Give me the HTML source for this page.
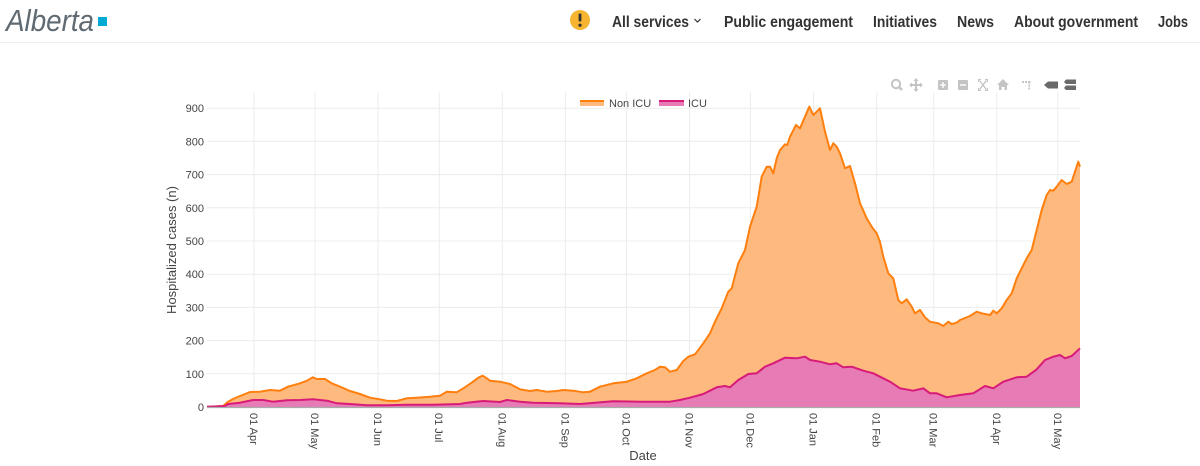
<!DOCTYPE html>
<html><head><meta charset="utf-8"><style>
html,body{margin:0;padding:0;background:#fff;}
svg{display:block;}
text{font-family:"Liberation Sans",sans-serif;}
</style></head><body>
<svg width="1200" height="466" viewBox="0 0 1200 466" xmlns="http://www.w3.org/2000/svg">
<rect width="1200" height="466" fill="#fff"/>
<!-- Header -->
<text x="6" y="31" font-family="Liberation Serif, serif" font-style="italic" font-size="31" fill="#5f6a72" textLength="88" lengthAdjust="spacingAndGlyphs">Alberta</text>
<rect x="98" y="17" width="9" height="9" fill="#00aad2"/>
<line x1="0" y1="42.5" x2="1200" y2="42.5" stroke="#eeeeee" stroke-width="1"/>
<circle cx="580" cy="20" r="10" fill="#f7b52f"/>
<rect x="578.6" y="13.5" width="2.8" height="8" rx="1" fill="#333"/>
<circle cx="580" cy="25.2" r="1.6" fill="#333"/>
<g font-weight="bold" font-size="16" fill="#333">
<text x="612" y="27" textLength="77" lengthAdjust="spacingAndGlyphs">All services</text>
<text x="724" y="27" textLength="129" lengthAdjust="spacingAndGlyphs">Public engagement</text>
<text x="873" y="27" textLength="64" lengthAdjust="spacingAndGlyphs">Initiatives</text>
<text x="957" y="27" textLength="37" lengthAdjust="spacingAndGlyphs">News</text>
<text x="1014" y="27" textLength="124" lengthAdjust="spacingAndGlyphs">About government</text>
<text x="1158" y="27" textLength="30" lengthAdjust="spacingAndGlyphs">Jobs</text>
</g>
<polyline points="694.5,19 697.5,22 700.5,19" fill="none" stroke="#333" stroke-width="1.2"/>

<!-- Modebar -->
<g fill="#c4c4c4" stroke="none">
<circle cx="896" cy="84" r="4.2" fill="none" stroke="#c4c4c4" stroke-width="2"/>
<line x1="899" y1="87" x2="902" y2="90" stroke="#c4c4c4" stroke-width="2.4"/>
<path d="M916 78 L918.5 81 H917 V84 H920 V82.5 L923 85 L920 87.5 V86 H917 V89 H918.5 L916 92 L913.5 89 H915 V86 H912 V87.5 L909 85 L912 82.5 V84 H915 V81 H913.5 Z"/>
<rect x="938" y="80" width="10" height="10" rx="1"/>
<rect x="958" y="80" width="10" height="10" rx="1"/>
<path d="M978 79 h3 v1.2 h-1.8 v1.8 h-1.2z M988 79 h-3 v1.2 h1.8 v1.8 h1.2z M978 91 h3 v-1.2 h-1.8 v-1.8 h-1.2z M988 91 h-3 v-1.2 h1.8 v-1.8 h1.2z"/>
<path d="M980 81 L986 89 M986 81 L980 89" stroke="#c4c4c4" stroke-width="1.3" fill="none"/>
<path d="M1003 79 L1009 85 H1007 V90 H1004.5 V87 H1001.5 V90 H999 V85 H997 Z"/>
<rect x="1022" y="81" width="2" height="2"/><rect x="1025" y="81" width="2" height="2"/><rect x="1028" y="81" width="2.4" height="2.4"/>
<rect x="1028.4" y="84.5" width="1.6" height="2"/><rect x="1028.4" y="87.5" width="1.6" height="2"/>
</g>
<g fill="#6a6a6a">
<path d="M1044 85 L1048 81.5 H1058 V88.5 H1048 Z"/>
<path d="M1064 82 L1066 79.5 H1076 V84 H1066 Z"/>
<path d="M1064 88 L1066 85.5 H1076 V90 H1066 Z"/>
</g>
<g fill="#fff">
<rect x="942.3" y="82" width="1.4" height="6"/><rect x="940" y="84.3" width="6" height="1.4"/>
<rect x="960" y="84.3" width="6" height="1.4"/>
</g>

<!-- Grid -->
<g stroke="#ececec" stroke-width="1">
<line x1="207" y1="373.8" x2="1080" y2="373.8"/>
<line x1="207" y1="340.6" x2="1080" y2="340.6"/>
<line x1="207" y1="307.4" x2="1080" y2="307.4"/>
<line x1="207" y1="274.2" x2="1080" y2="274.2"/>
<line x1="207" y1="241" x2="1080" y2="241"/>
<line x1="207" y1="207.8" x2="1080" y2="207.8"/>
<line x1="207" y1="174.6" x2="1080" y2="174.6"/>
<line x1="207" y1="141.4" x2="1080" y2="141.4"/>
<line x1="207" y1="108.2" x2="1080" y2="108.2"/>
<line x1="254" y1="92" x2="254" y2="407"/>
<line x1="315" y1="92" x2="315" y2="407"/>
<line x1="378" y1="92" x2="378" y2="407"/>
<line x1="439.2" y1="92" x2="439.2" y2="407"/>
<line x1="502.3" y1="92" x2="502.3" y2="407"/>
<line x1="565.4" y1="92" x2="565.4" y2="407"/>
<line x1="626.4" y1="92" x2="626.4" y2="407"/>
<line x1="689.5" y1="92" x2="689.5" y2="407"/>
<line x1="750.5" y1="92" x2="750.5" y2="407"/>
<line x1="813.6" y1="92" x2="813.6" y2="407"/>
<line x1="876.7" y1="92" x2="876.7" y2="407"/>
<line x1="933.7" y1="92" x2="933.7" y2="407"/>
<line x1="996.8" y1="92" x2="996.8" y2="407"/>
<line x1="1057.8" y1="92" x2="1057.8" y2="407"/>
</g>

<!-- Non ICU -->
<polygon fill="#fdb97e" points="207,407 207,406.7 215,406.5 223,406 228,401.7 233,399 240,396 250,392 260,391.7 270,390 280,390.7 288,386.7 300,383.3 307,380.7 312.7,377.3 316.7,379 325,379 331.7,383.3 340,386.7 350,391 360,394 370,397.7 380,399.3 386.7,400.7 396.7,401 406.7,398.3 416.7,397.7 430,396.7 440,395.7 446.7,391.7 456.7,392.3 463.3,388.3 471.7,382.7 478.3,377.7 482.7,375.7 486.7,378.3 490,380.7 500,381.7 510,384 520,389.3 530,391 536.7,390 546.7,391.7 556.7,391 563.3,390 573.3,390.7 583.3,392.3 590,391.7 600,386.7 613.3,383.3 626.7,381.7 636.7,378.3 646.7,373.3 655,370 660,366.7 665,367.3 670,371.7 676.7,370 683.3,361 688.3,356.7 695,354.3 703.3,343.3 710,333.3 715,321.7 721.7,308.3 728.3,291.7 731.7,288.3 738.3,263.3 745,250 750,226.7 756.7,206.7 761.7,176.7 766.7,166.7 770,166.7 773.3,173.3 776.7,158.3 780,150 785,144.3 787.3,145 790,136.7 796,125 800,128.3 805,116.7 809.3,106.7 813.3,115 816.7,111.7 820,108.3 825,131.7 830,150 833.3,143.3 836.7,146.7 840,153.3 845,168.3 850,166 855,183.3 860,203.3 866.7,218.3 871.7,226.7 876.7,233.3 880,242 883.3,256.7 888.3,273.3 893.3,278.3 898.3,300 901.7,303.3 906.7,299.3 911.7,306.7 915,313.3 920,310 925,317.3 930,321.7 938.3,323.3 943.3,326 948.3,321.7 951.7,324 956.7,322.7 960,320 970,316 976.7,311.7 981.7,313.3 990,315 993.3,310.7 996.7,313.3 1001.7,308.3 1006.7,300 1011.7,293.3 1016.7,278.3 1021.7,268.3 1026.7,258.3 1031.7,250 1036.7,230 1041.7,210 1046.7,195 1050,190 1053.3,190.7 1056.7,186.7 1061.7,180 1066.7,184 1071.7,181.7 1075,171.7 1078.3,161.7 1080,166.7 1080,407"/>
<polyline fill="none" stroke="#ff7f0e" stroke-width="2" stroke-linejoin="round" points="207,406.7 215,406.5 223,406 228,401.7 233,399 240,396 250,392 260,391.7 270,390 280,390.7 288,386.7 300,383.3 307,380.7 312.7,377.3 316.7,379 325,379 331.7,383.3 340,386.7 350,391 360,394 370,397.7 380,399.3 386.7,400.7 396.7,401 406.7,398.3 416.7,397.7 430,396.7 440,395.7 446.7,391.7 456.7,392.3 463.3,388.3 471.7,382.7 478.3,377.7 482.7,375.7 486.7,378.3 490,380.7 500,381.7 510,384 520,389.3 530,391 536.7,390 546.7,391.7 556.7,391 563.3,390 573.3,390.7 583.3,392.3 590,391.7 600,386.7 613.3,383.3 626.7,381.7 636.7,378.3 646.7,373.3 655,370 660,366.7 665,367.3 670,371.7 676.7,370 683.3,361 688.3,356.7 695,354.3 703.3,343.3 710,333.3 715,321.7 721.7,308.3 728.3,291.7 731.7,288.3 738.3,263.3 745,250 750,226.7 756.7,206.7 761.7,176.7 766.7,166.7 770,166.7 773.3,173.3 776.7,158.3 780,150 785,144.3 787.3,145 790,136.7 796,125 800,128.3 805,116.7 809.3,106.7 813.3,115 816.7,111.7 820,108.3 825,131.7 830,150 833.3,143.3 836.7,146.7 840,153.3 845,168.3 850,166 855,183.3 860,203.3 866.7,218.3 871.7,226.7 876.7,233.3 880,242 883.3,256.7 888.3,273.3 893.3,278.3 898.3,300 901.7,303.3 906.7,299.3 911.7,306.7 915,313.3 920,310 925,317.3 930,321.7 938.3,323.3 943.3,326 948.3,321.7 951.7,324 956.7,322.7 960,320 970,316 976.7,311.7 981.7,313.3 990,315 993.3,310.7 996.7,313.3 1001.7,308.3 1006.7,300 1011.7,293.3 1016.7,278.3 1021.7,268.3 1026.7,258.3 1031.7,250 1036.7,230 1041.7,210 1046.7,195 1050,190 1053.3,190.7 1056.7,186.7 1061.7,180 1066.7,184 1071.7,181.7 1075,171.7 1078.3,161.7 1080,166.7"/>

<!-- ICU -->
<polygon fill="#e67bb6" points="207,407 207,406.7 225,406 228,404 240,402.7 253,400 263,400 273,401.7 287,400.3 300,400 313,399.3 327,400.7 337,403.3 350,404 367,405.3 387,405.3 407,404.7 433,404.7 460,404 467,402.7 483,401 500,402 507,400 520,401.7 533,402.7 560,403.3 580,404 613,401.3 640,401.7 670,401.7 680,400 690,397.7 703.3,394 716.7,387.3 725,386 730,387.3 738.3,380 748.3,374 756.7,373.3 765,366.7 773.3,363.3 785,357.7 796.7,358.3 805,356.7 810,360 820,361.7 830,364.3 836.7,363.3 843.3,367.3 851.7,366.7 863.3,370.7 873.3,373.3 880,376.7 890,381.7 900,388.3 913.3,390.7 923.3,388.3 930,393.3 936.7,393.3 946.7,397.3 960,395 973.3,393.3 985,386 993.3,388.3 1003.3,381.7 1016.7,377.3 1026.7,376.7 1036.7,369.3 1045,360 1053.3,356.7 1060,355 1065,358.3 1071.7,356 1080,348.3 1080,407"/>
<polyline fill="none" stroke="#d81b78" stroke-width="2" stroke-linejoin="round" points="207,406.7 225,406 228,404 240,402.7 253,400 263,400 273,401.7 287,400.3 300,400 313,399.3 327,400.7 337,403.3 350,404 367,405.3 387,405.3 407,404.7 433,404.7 460,404 467,402.7 483,401 500,402 507,400 520,401.7 533,402.7 560,403.3 580,404 613,401.3 640,401.7 670,401.7 680,400 690,397.7 703.3,394 716.7,387.3 725,386 730,387.3 738.3,380 748.3,374 756.7,373.3 765,366.7 773.3,363.3 785,357.7 796.7,358.3 805,356.7 810,360 820,361.7 830,364.3 836.7,363.3 843.3,367.3 851.7,366.7 863.3,370.7 873.3,373.3 880,376.7 890,381.7 900,388.3 913.3,390.7 923.3,388.3 930,393.3 936.7,393.3 946.7,397.3 960,395 973.3,393.3 985,386 993.3,388.3 1003.3,381.7 1016.7,377.3 1026.7,376.7 1036.7,369.3 1045,360 1053.3,356.7 1060,355 1065,358.3 1071.7,356 1080,348.3"/>

<!-- x axis line -->
<line x1="207" y1="407.5" x2="1080" y2="407.5" stroke="#aaaaaa" stroke-width="1.2"/>

<!-- y tick labels -->
<g font-size="11" fill="#444" text-anchor="end">
<text x="204" y="411">0</text>
<text x="204" y="377.8">100</text>
<text x="204" y="344.6">200</text>
<text x="204" y="311.4">300</text>
<text x="204" y="278.2">400</text>
<text x="204" y="245">500</text>
<text x="204" y="211.8">600</text>
<text x="204" y="178.6">700</text>
<text x="204" y="145.4">800</text>
<text x="204" y="112.2">900</text>
</g>
<text transform="translate(176,250) rotate(-90)" text-anchor="middle" font-size="13" fill="#444">Hospitalized cases (n)</text>

<!-- x tick labels (rotated) -->
<g font-size="11" fill="#444">
<text transform="translate(250,413) rotate(90)">01 Apr</text>
<text transform="translate(311,413) rotate(90)">01 May</text>
<text transform="translate(374,413) rotate(90)">01 Jun</text>
<text transform="translate(435.2,413) rotate(90)">01 Jul</text>
<text transform="translate(498.3,413) rotate(90)">01 Aug</text>
<text transform="translate(561.4,413) rotate(90)">01 Sep</text>
<text transform="translate(622.4,413) rotate(90)">01 Oct</text>
<text transform="translate(685.5,413) rotate(90)">01 Nov</text>
<text transform="translate(746.5,413) rotate(90)">01 Dec</text>
<text transform="translate(809.6,413) rotate(90)">01 Jan</text>
<text transform="translate(872.7,413) rotate(90)">01 Feb</text>
<text transform="translate(929.7,413) rotate(90)">01 Mar</text>
<text transform="translate(992.8,413) rotate(90)">01 Apr</text>
<text transform="translate(1053.8,413) rotate(90)">01 May</text>
</g>
<text x="643" y="460" text-anchor="middle" font-size="13" fill="#444">Date</text>

<!-- Legend -->
<rect x="580" y="101" width="24" height="5" fill="#fdb97e"/>
<line x1="580" y1="101" x2="604" y2="101" stroke="#ff7f0e" stroke-width="2"/>
<text x="609" y="107" font-size="11" fill="#444">Non ICU</text>
<rect x="659" y="101" width="25" height="5" fill="#e67bb6"/>
<line x1="659" y1="101" x2="684" y2="101" stroke="#d81b78" stroke-width="2"/>
<text x="688" y="107" font-size="11" fill="#444">ICU</text>
</svg>
</body></html>
